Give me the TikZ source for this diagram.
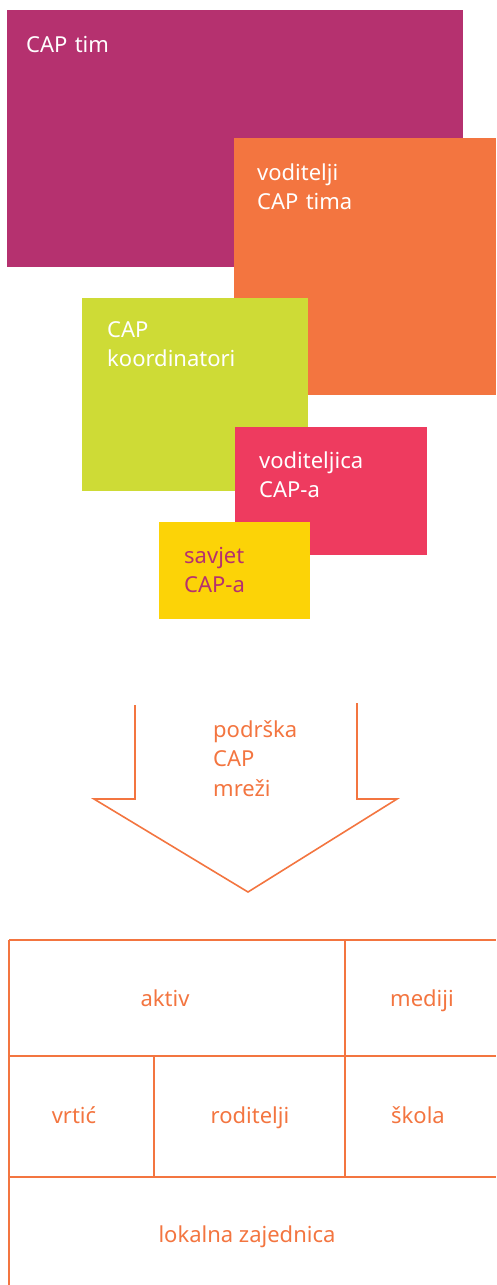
\documentclass[tikz,border=0pt]{standalone}
\usepackage{fontspec}
\setmainfont{Noto Sans}
\usetikzlibrary{positioning}
\definecolor{capPurple}{HTML}{B5316F}
\definecolor{capOrange}{HTML}{F37540}
\definecolor{capGreen}{HTML}{CEDB36}
\definecolor{capRed}{HTML}{EE3B5F}
\definecolor{capYellow}{HTML}{FCD307}
\tikzset{
  panel/.style={rectangle, draw=none, inner sep=0pt, anchor=north west},
  caption/.style={anchor=base west, inner sep=0pt, text width=5cm, align=left,
    font=\fontsize{22}{29.5}\selectfont},
  cell/.style={anchor=base, inner sep=0pt, text=capOrange, font=\fontsize{22}{26}\selectfont},
  rule/.style={draw=capOrange, line width=1.6pt},
}
\begin{document}
\begin{tikzpicture}[x=1pt, y=-1pt]
  \useasboundingbox (0,0) rectangle (496,1285);
  % coloured boxes, back to front
  \node[panel, fill=capPurple, minimum width=456pt, minimum height=257pt] (tim) at (7,10) {};
  \node[caption, text=white] (timtext) at (26,52) {CAP tim};
  \node[panel, fill=capOrange, minimum width=262pt, minimum height=257pt] (voditelji) at (234,138) {};
  \node[caption, text=white] (voditeljitext) at (257,180) {voditelji\\CAP tima};
  \node[panel, fill=capGreen, minimum width=226pt, minimum height=193pt] (koord) at (82,298) {};
  \node[caption, text=white] (koordtext) at (107,337) {CAP\\koordinatori};
  \node[panel, fill=capRed, minimum width=192pt, minimum height=128pt] (voditeljica) at (235,427) {};
  \node[caption, text=white] (voditeljicatext) at (259,468) {voditeljica\\CAP-a};
  \node[panel, fill=capYellow, minimum width=151pt, minimum height=97pt] (savjet) at (159,522) {};
  \node[caption, text=capPurple] (savjettext) at (184,563) {savjet\\CAP-a};

  % open arrow
  \draw[rule] (135,705) -- (135,799) -- (94,799) -- (248,892) -- (397,799) -- (357,799) -- (357,703);
  \node[caption, text=capOrange] (podrska) at (213,737) {podrška\\CAP\\mreži};

  % network table
  \draw[rule] (9,940) -- (496,940);
  \draw[rule] (9,1056) -- (496,1056);
  \draw[rule] (9,1177) -- (496,1177);
  \draw[rule] (9,940) -- (9,1285);
  \draw[rule] (345,940) -- (345,1177);
  \draw[rule] (154,1056) -- (154,1177);
  \node[cell] (aktiv) at (165,1006) {aktiv};
  \node[cell] (mediji) at (422,1006) {mediji};
  \node[cell] (vrtic) at (74,1123) {vrtić};
  \node[cell] (roditelji) at (250,1123) {roditelji};
  \node[cell] (skola) at (418,1123) {škola};
  \node[cell] (zajednica) at (247,1242) {lokalna zajednica};
\end{tikzpicture}
\end{document}
